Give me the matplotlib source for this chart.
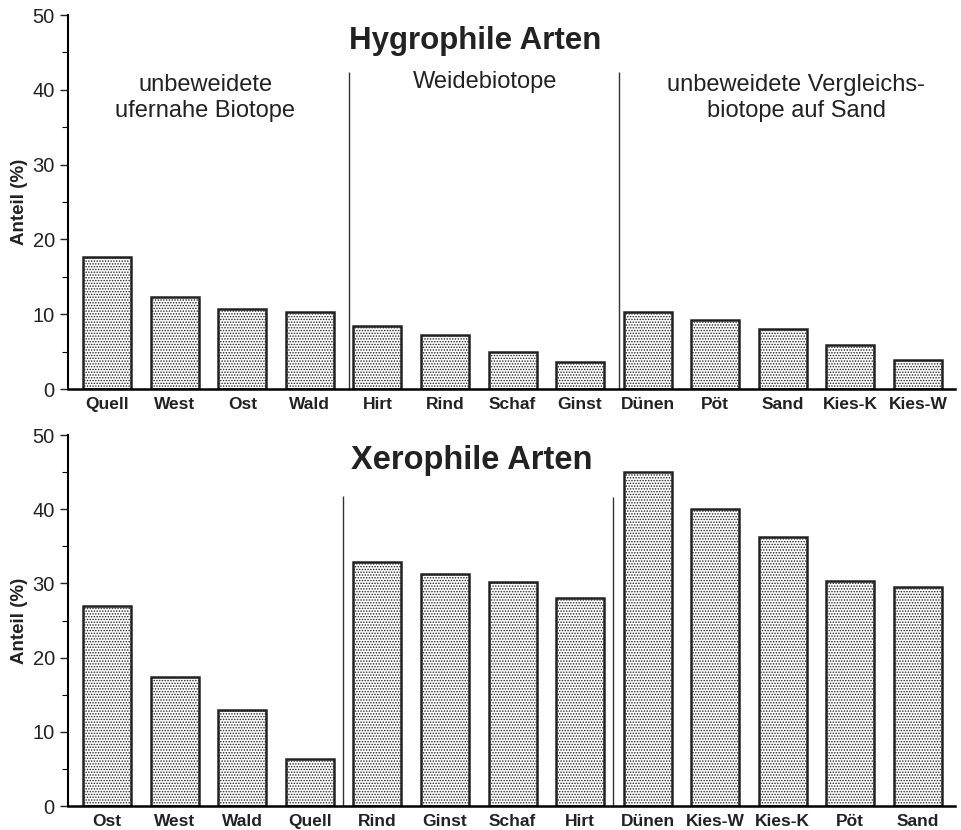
import matplotlib.pyplot as plt
from matplotlib.ticker import MultipleLocator

plt.rcParams['font.family'] = ['Liberation Sans', 'DejaVu Sans']
plt.rcParams['hatch.linewidth'] = 0.7

# Hygrophile Arten
hyg_labels = ["Quell", "West", "Ost", "Wald", "Hirt", "Rind", "Schaf", "Ginst",
              "Dünen", "Pöt", "Sand", "Kies-K", "Kies-W"]
hyg_values = [17.6, 12.3, 10.7, 10.3, 8.4, 7.2, 4.9, 3.6, 10.3, 9.2, 8.0, 5.9, 3.9]

# Xerophile Arten
xer_labels = ["Ost", "West", "Wald", "Quell", "Rind", "Ginst", "Schaf", "Hirt",
              "Dünen", "Kies-W", "Kies-K", "Pöt", "Sand"]
xer_values = [27.0, 17.4, 12.9, 6.3, 32.9, 31.3, 30.2, 28.0, 45.0, 40.0, 36.3, 30.3, 29.5]

group_texts = ["unbeweidete\nufernahe Biotope", "Weidebiotope",
               "unbeweidete Vergleichs-\nbiotope auf Sand"]

fig = plt.figure(figsize=(9.61, 8.30), dpi=100)
ax1 = fig.add_axes([0.0708, 0.5313, 0.923, 0.4506])
ax2 = fig.add_axes([0.0708, 0.0289, 0.923, 0.4470])


def draw_panel(ax, labels, values, title, title_x, title_size, seps):
    x = list(range(len(labels)))
    ax.bar(x, values, width=0.71, facecolor="white", edgecolor="#222222",
           linewidth=1.8, hatch="......", zorder=2)
    ax.set_xlim(-0.58, 12.55)
    ax.set_ylim(0, 50)
    ax.spines["top"].set_visible(False)
    ax.spines["right"].set_visible(False)
    ax.spines["left"].set_linewidth(1.5)
    ax.spines["bottom"].set_linewidth(1.8)
    ax.yaxis.set_major_locator(MultipleLocator(10))
    ax.yaxis.set_minor_locator(MultipleLocator(5))
    ax.tick_params(axis="y", which="major", length=6, width=1, labelsize=14.5,
                   colors="#222222")
    ax.tick_params(axis="y", which="minor", length=4, width=0.8)
    ax.set_xticks(x)
    ax.set_xticklabels(labels, fontweight="bold", fontsize=12.5, color="#222222")
    ax.tick_params(axis="x", direction="in", length=5, width=0.8, pad=6)
    ax.set_ylabel("Anteil (%)", fontweight="bold", fontsize=13.5, color="#222222",
                  labelpad=3)
    for xs, top in seps:
        ax.vlines(xs, 0, top, color="#333333", linewidth=1.0, zorder=1)
    ax.text(title_x, 46.5, title, ha="center", va="center", fontsize=title_size,
            fontweight="bold", color="#222222")


draw_panel(ax1, hyg_labels, hyg_values, "Hygrophile Arten", 5.45, 22.5,
           [(3.58, 42.4), (7.57, 42.4)])
draw_panel(ax2, xer_labels, xer_values, "Xerophile Arten", 5.4, 23.5,
           [(3.49, 41.8), (7.48, 41.6)])

ax1.text(1.45, 38.9, group_texts[0], ha="center", va="center", fontsize=17,
         color="#222222", linespacing=1.25)
ax1.text(5.6, 41.0, group_texts[1], ha="center", va="center", fontsize=17,
         color="#222222")
ax1.text(10.2, 38.9, group_texts[2], ha="center", va="center", fontsize=17,
         color="#222222", linespacing=1.25)

fig.savefig("out.png", dpi=100)
